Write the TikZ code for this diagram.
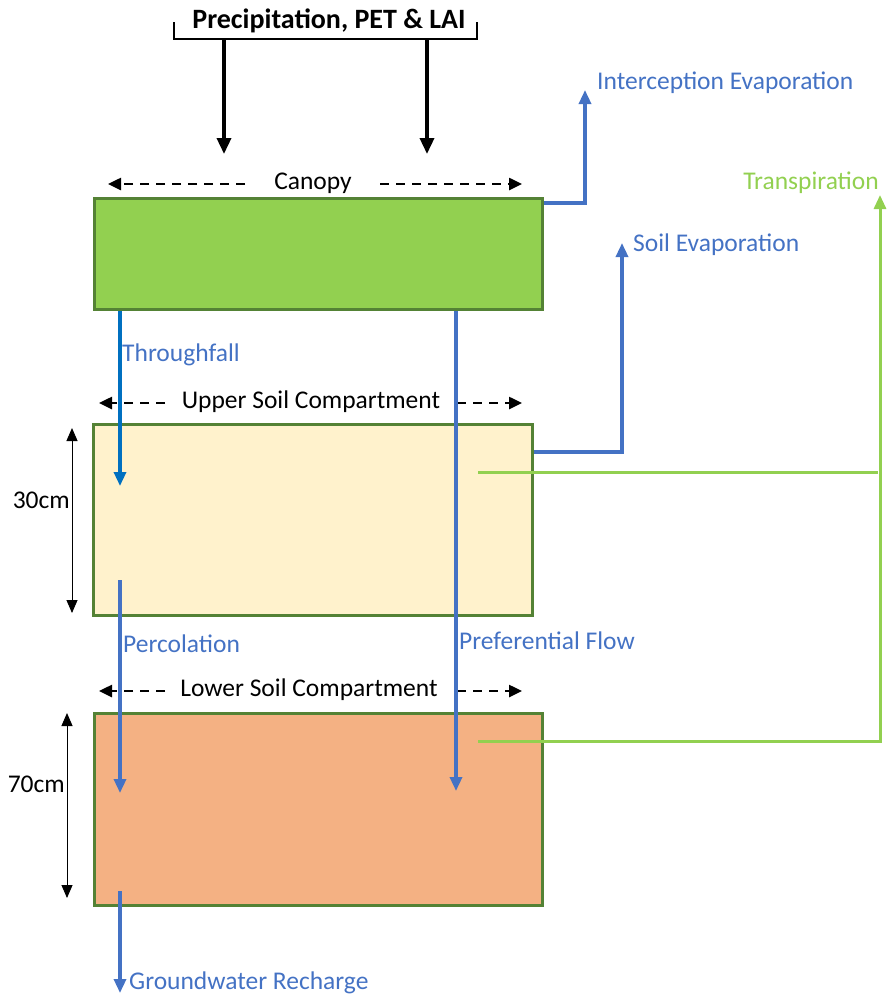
\documentclass[tikz,border=0pt]{standalone}
\usepackage{fontspec}
\setmainfont{Carlito}
\usetikzlibrary{arrows.meta,positioning}
\definecolor{flowblue}{HTML}{4472C4}
\definecolor{tfblue}{HTML}{0070C0}
\definecolor{leaf}{HTML}{92D050}
\definecolor{rim}{HTML}{548235}
\definecolor{topsoil}{HTML}{FFF2CC}
\definecolor{subsoil}{HTML}{F4B183}
\begin{document}
\begin{tikzpicture}[x=1pt, y=-1pt, font=\fontsize{25.5}{30}\selectfont,
 comp/.style={draw=rim, line width=2.5pt, anchor=north west, inner sep=0pt},
 flow/.style={draw=flowblue, line width=3.3pt, -{Triangle[length=14pt,width=12pt]}},
 trans/.style={draw=leaf, line width=3pt},
 input/.style={line width=3.5pt, -{Triangle[length=16pt,width=14pt]}},
 extent/.style={line width=2.5pt, dash pattern=on 9pt off 7pt, -{Triangle[length=13pt,width=12pt]}},
 dim/.style={line width=1pt, {Triangle[length=13pt,width=11pt]}-{Triangle[length=13pt,width=11pt]}},
 lbl/.style={inner sep=0pt},
 blbl/.style={inner sep=0pt, text=flowblue, anchor=west}]
\useasboundingbox (0,0) rectangle (891,996);
\node[comp, fill=leaf, minimum width=448pt, minimum height=111pt] (canopy) at (93,197) {};
\node[comp, fill=topsoil, minimum width=439pt, minimum height=191pt] (upper) at (92,423) {};
\node[comp, fill=subsoil, minimum width=448pt, minimum height=192pt] (lower) at (93,712) {};
\node[lbl, font=\fontsize{28}{32}\selectfont\bfseries] (precip) at (329,21) {Precipitation, PET \& LAI};
\draw[line width=2.5pt] (174,22) |- (477,39) -- (477,22);
\foreach \x in {224,427}{\draw[input] (\x,39) -- (\x,154);}
\node[lbl] (canlbl) at (313,183) {Canopy};
\node[lbl] (uplbl) at (311,402) {Upper Soil Compartment};
\node[lbl] (lowlbl) at (309,690) {Lower Soil Compartment};
\foreach \y/\l/\a/\b in {184/108/245/380, 403/99/165/457, 691/99/165/457}{
 \draw[extent] (\a,\y) -- (\l,\y);
 \draw[extent] (\b,\y) -- (522,\y);}
\coordinate (tf) at (120,486);
\draw[flow, draw=tfblue] (canopy.south west -| tf) -- (tf);
\node[blbl] (tflbl) at (122,355) {Throughfall};
\coordinate (perc0) at (120,580);
\coordinate (perc1) at (120,793);
\draw[flow] (perc0) -- (perc1);
\node[blbl] (perclbl) at (123,644) {Percolation};
\coordinate (gw0) at (120,891);
\coordinate (gw1) at (120,993);
\draw[flow] (gw0) -- (gw1);
\node[blbl] (gwlbl) at (129,983) {Groundwater Recharge};
\coordinate (pf) at (456,791);
\draw[flow] (canopy.south west -| pf) -- (pf);
\node[blbl] (pflbl) at (459,641) {Preferential Flow};
\coordinate (ie) at (585,90);
\draw[flow] (canopy.east |- 0,203) -| (ie);
\node[blbl] (ielbl) at (597,83) {Interception Evaporation};
\coordinate (se) at (622,243);
\draw[flow] (upper.east |- 0,452) -| (se);
\node[blbl] (selbl) at (633,245) {Soil Evaporation};
\coordinate (tup) at (478,472);
\coordinate (tlow) at (478,741);
\coordinate (tr) at (880,195);
\draw[trans] (tup) -- (878,472);
\draw[trans] (tlow) -- (880,741);
\draw[trans, -{Triangle[length=14pt,width=12pt]}] (880,742.5) -- (tr);
\node[lbl, text=leaf, anchor=east] (trlbl) at (879,183) {Transpiration};
\draw[dim] (72,428) -- (72,613);
\node[lbl, anchor=east] (d30) at (70,500) {30cm};
\draw[dim] (67,713) -- (67,898);
\node[lbl, anchor=east] (d70) at (65,784) {70cm};
\end{tikzpicture}
\end{document}
